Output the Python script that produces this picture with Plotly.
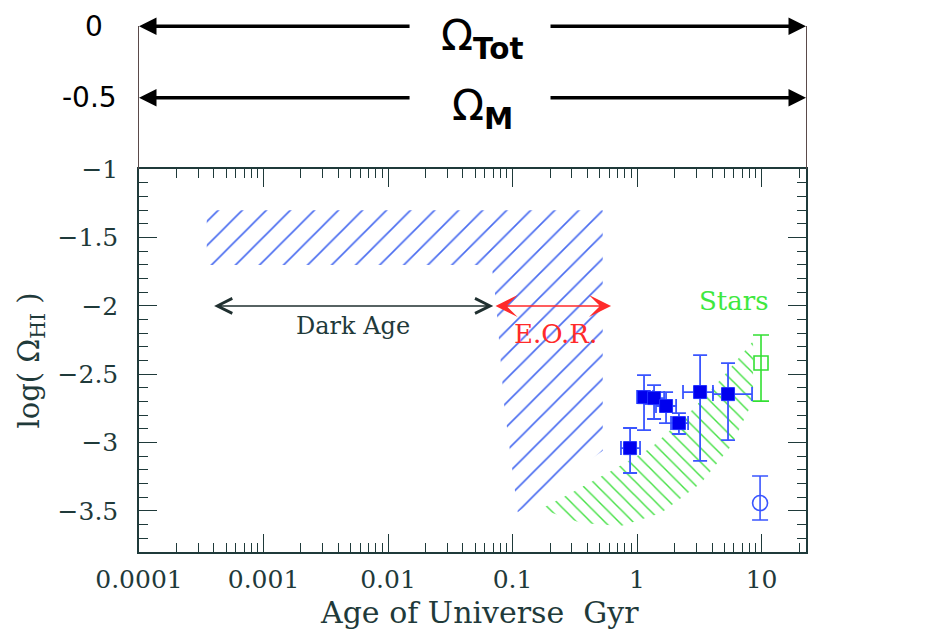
import numpy as np
import plotly.graph_objects as go

# ---------------- data ----------------
x_ticks = [1e-4, 1e-3, 1e-2, 1e-1, 1, 10]
x_ticktext = ["0.0001", "0.001", "0.01", "0.1", "1", "10"]
y_ticks = [-1, -1.5, -2, -2.5, -3, -3.5]
y_ticktext = ["\u22121", "\u22121.5", "\u22122", "\u22122.5", "\u22123", "\u22123.5"]

# HI measurements (filled blue squares)
hi_age = [0.879, 1.138, 1.37, 1.71, 2.17, 3.21, 5.38]
hi_log = [-3.04, -2.667, -2.674, -2.732, -2.857, -2.630, -2.645]
hi_err_up = [0.147, 0.161, 0.095, 0.102, 0.073, 0.270, 0.227]
hi_err_dn = [0.182, 0.241, 0.153, 0.125, 0.080, 0.504, 0.336]
hi_xerr_up = [0.178, 0.207, 0.28, 0.35, 0.40, 0.86, 3.01]
hi_xerr_dn = [0.136, 0.138, 0.19, 0.29, 0.295, 0.87, 1.31]

# local points
star_age = [9.9]
star_log = [-2.418]
star_err_up = [0.205]
star_err_dn = [0.278]

local_age = [9.73]
local_log = [-3.442]
local_err_up = [0.198]
local_err_dn = [0.124]

# hatched regions
blue_x = [3.5e-4, 0.53, 0.53, 0.11, 0.0855, 0.0736, 0.068, 3.5e-4]
blue_y = [-1.3, -1.3, -3.06, -3.51, -2.72, -1.965, -1.7, -1.7]
green_x = [0.169, 0.355, 0.743, 1.56, 3.27, 5.69, 8.55, 8.55, 4.73, 2.72, 1.29, 0.618, 0.295]
green_y = [-3.485, -3.588, -3.61, -3.515, -3.295, -3.025, -2.696, -2.257, -2.535, -2.769, -3.04, -3.208, -3.368]

# epochs
dark_age = [3.9e-4, 0.070]
eor = [0.071, 0.618]
epoch_level = -2.0

# upper panel levels
omega_tot = 0.0
omega_m = -0.5
ratio_bottom = -3.44

X_RANGE = [-4, 1.357]
INK = "#1f3a3a"
SERIF = "DejaVu Serif"
SANS = "DejaVu Sans"

L = np.log10

fig = go.Figure()

fig.add_trace(go.Scatter(x=blue_x, y=blue_y, fill="toself", mode="lines",
                         line=dict(width=0, color="rgba(0,0,0,0)"),
                         fillcolor="rgba(0,0,0,0)",
                         fillpattern=dict(shape="/", fgcolor="#4a6cf0", bgcolor="rgba(0,0,0,0)",
                                          fgopacity=1, size=17, solidity=0.1),
                         hoverinfo="skip", showlegend=False))
fig.add_trace(go.Scatter(x=green_x, y=green_y, fill="toself", mode="lines",
                         line=dict(width=0, color="rgba(0,0,0,0)"),
                         fillcolor="rgba(0,0,0,0)",
                         fillpattern=dict(shape="\\", fgcolor="#44e044", bgcolor="rgba(0,0,0,0)",
                                          fgopacity=1, size=10, solidity=0.14),
                         hoverinfo="skip", showlegend=False))

fig.add_trace(go.Scatter(x=hi_age, y=hi_log, mode="markers",
                         marker=dict(symbol="square", size=13, color="#0000ee",
                                     line=dict(width=1, color="#2030ff")),
                         error_y=dict(type="data", array=hi_err_up, arrayminus=hi_err_dn,
                                      color="#3a55ff", thickness=1.8, width=7),
                         error_x=dict(type="data", array=hi_xerr_up, arrayminus=hi_xerr_dn,
                                      color="#3a55ff", thickness=1.8, width=7),
                         showlegend=False))
fig.add_trace(go.Scatter(x=star_age, y=star_log, mode="markers",
                         marker=dict(symbol="square-open", size=14, color="#33e033",
                                     line=dict(width=1.6)),
                         error_y=dict(type="data", array=star_err_up, arrayminus=star_err_dn,
                                      color="#33e033", thickness=1.6, width=8),
                         showlegend=False))
fig.add_trace(go.Scatter(x=local_age, y=local_log, mode="markers",
                         marker=dict(symbol="circle-open", size=15, color="#3a55ff",
                                     line=dict(width=1.6)),
                         error_y=dict(type="data", array=local_err_up, arrayminus=local_err_dn,
                                      color="#3a55ff", thickness=1.6, width=8),
                         showlegend=False))

minor_x = [m * 10.0 ** e for e in range(-4, 2) for m in range(2, 10) if m * 10.0 ** e < 10 ** X_RANGE[1]]
minor_y = [round(-1 - 0.1 * i, 2) for i in range(1, 28) if round(-1 - 0.1 * i, 2) not in y_ticks]

LOW_TOP = 0.7222
UP_TOP = 0.992

fig.update_layout(
    width=946, height=636,
    margin=dict(l=131, r=148, t=0, b=92),
    paper_bgcolor="white", plot_bgcolor="white",
    font=dict(family=SERIF, color=INK),
    xaxis=dict(type="log", range=X_RANGE, anchor="y",
               tickvals=x_ticks, ticktext=x_ticktext,
               ticks="inside", ticklen=18, tickwidth=1.3, tickcolor=INK,
               minor=dict(tickvals=minor_x, ticks="inside", ticklen=9, tickwidth=1.3, tickcolor=INK),
               showline=True, linecolor=INK, linewidth=1.5, mirror="ticks",
               showgrid=False, zeroline=False,
               tickfont=dict(family=SERIF, size=25, color=INK), ticklabelstandoff=4),
    yaxis=dict(domain=[0, LOW_TOP], range=[-3.8, -1],
               tickvals=y_ticks, ticktext=y_ticktext,
               ticks="inside", ticklen=18, tickwidth=1.3, tickcolor=INK,
               minor=dict(tickvals=minor_y, ticks="inside", ticklen=9, tickwidth=1.3, tickcolor=INK),
               showline=True, linecolor=INK, linewidth=1.5, mirror="ticks",
               showgrid=False, zeroline=False,
               tickfont=dict(family=SERIF, size=25, color=INK), ticklabelstandoff=14),
    yaxis2=dict(domain=[LOW_TOP, UP_TOP], range=[-1, 0], anchor="x",
                showline=True, linecolor="#5a4a4a", linewidth=1, mirror=True,
                ticks="", showticklabels=False, showgrid=False, zeroline=False),
)

ann = []
# axis titles
ann.append(dict(xref="paper", yref="paper", x=0.51, y=-0.114, text="Age of Universe\u00a0\u00a0Gyr",
                showarrow=False, font=dict(family=SERIF, size=30, color=INK),
                xanchor="center", yanchor="middle"))
ann.append(dict(xref="paper", yref="y", x=-0.162, y=-2.40, text="log( \u03a9<sub>HI</sub> )",
                showarrow=False, textangle=-90, font=dict(family=SERIF, size=29, color=INK),
                xanchor="center", yanchor="middle"))

# epoch arrows
ann.append(dict(xref="x", yref="y", x=L(dark_age[1]), y=epoch_level, axref="x", ayref="y",
                ax=L(dark_age[0]), ay=epoch_level, text="", showarrow=True,
                arrowhead=5, startarrowhead=5, arrowside="end+start",
                arrowsize=2.1, startarrowsize=2.1, arrowwidth=1.4, arrowcolor="#203030"))
ann.append(dict(xref="x", yref="y", x=(L(dark_age[0]) + L(dark_age[1])) / 2, y=-2.148,
                text="Dark Age", showarrow=False, font=dict(family=SERIF, size=24, color=INK)))
ann.append(dict(xref="x", yref="y", x=L(eor[1]), y=epoch_level, axref="x", ayref="y",
                ax=L(eor[0]), ay=epoch_level, text="", showarrow=True,
                arrowhead=3, startarrowhead=3, arrowside="end+start",
                arrowsize=2.3, startarrowsize=2.3, arrowwidth=1.6, arrowcolor="#ff2a2a"))
ann.append(dict(xref="x", yref="y", x=L(0.223), y=-2.206, text="E.O.R.", showarrow=False,
                font=dict(family=SERIF, size=26, color="#ff2a2a")))
ann.append(dict(xref="x", yref="y", x=L(6.0), y=-1.965, text="Stars", showarrow=False,
                font=dict(family=SERIF, size=26, color="#3fe83f")))

# upper panel Omega arrows
for lvl, label, ty in [(omega_tot, "\u03a9<sub><b>Tot</b></sub>", -0.085),
                       (omega_m, "\u03a9<sub><b>M</b></sub>", -0.575)]:
    ann.append(dict(xref="x", yref="y2", x=X_RANGE[0], y=lvl, axref="x", ayref="y2",
                    ax=-1.815, ay=lvl, text="", showarrow=True, arrowhead=2, arrowsize=1,
                    arrowwidth=3.5, arrowcolor="black"))
    ann.append(dict(xref="x", yref="y2", x=X_RANGE[1], y=lvl, axref="x", ayref="y2",
                    ax=-0.707, ay=lvl, text="", showarrow=True, arrowhead=2, arrowsize=1,
                    arrowwidth=3.5, arrowcolor="black"))
    ann.append(dict(xref="x", yref="y2", x=-1.24, y=ty, text=label, showarrow=False,
                    font=dict(family=SANS, size=42, color="black"), xanchor="center", yanchor="middle"))

ann.append(dict(xref="paper", yref="y2", x=(93 - 138) / 667, y=omega_tot, text="0", showarrow=False,
                font=dict(family=SANS, size=28, color="black"), xanchor="center", yanchor="middle"))
ann.append(dict(xref="paper", yref="y2", x=(88 - 138) / 667, y=omega_m, text="-0.5", showarrow=False,
                font=dict(family=SANS, size=28, color="black"), xanchor="center", yanchor="middle"))

# 1/3300 double arrow
ARROW_X = 1.461
ann.append(dict(xref="x", yref="y2", x=ARROW_X, y=omega_tot, axref="x", ayref="y2",
                ax=ARROW_X, ay=-1, text="", showarrow=True, arrowhead=2, arrowsize=1,
                arrowwidth=4, arrowcolor="#2b2f8f"))
ann.append(dict(xref="x", yref="y", x=ARROW_X, y=ratio_bottom, axref="x", ayref="y",
                ax=ARROW_X, ay=-1, text="", showarrow=True, arrowhead=2, arrowsize=1,
                arrowwidth=4, arrowcolor="#2b2f8f"))
ann.append(dict(xref="x", yref="y", x=2.008, y=-1.71, text="1/3300", showarrow=False,
                font=dict(family=SANS, size=28, color="#2b2f8f"), xanchor="center", yanchor="middle"))

fig.update_layout(annotations=ann)
fig.write_html("out.html")
